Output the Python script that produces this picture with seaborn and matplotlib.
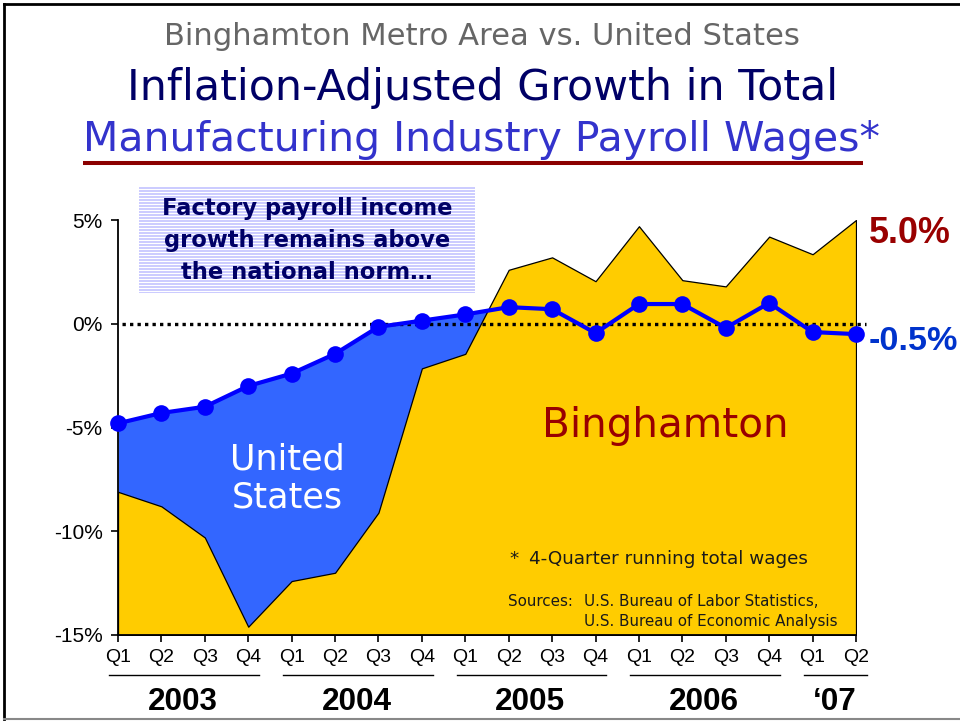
import matplotlib
matplotlib.use("Agg")
import matplotlib.pyplot as plt
import seaborn as sns
import numpy as np
import pandas as pd
from matplotlib.lines import Line2D
from matplotlib.patches import Rectangle
from matplotlib.transforms import blended_transform_factory

# ---------------- data ----------------
quarter_labels = ["Q1", "Q2", "Q3", "Q4", "Q1", "Q2", "Q3", "Q4",
                  "Q1", "Q2", "Q3", "Q4", "Q1", "Q2", "Q3", "Q4",
                  "Q1", "Q2"]
year_labels = ["2003", "2004", "2005", "2006", "\u201807"]
year_quarter_counts = [4, 4, 4, 4, 2]
us_growth = [-4.8, -4.3, -4.0, -3.0, -2.4, -1.45, -0.15, 0.15,
             0.45, 0.8, 0.7, -0.45, 0.95, 0.95, -0.2, 1.0, -0.4, -0.5]
binghamton_growth = [-8.1, -8.8, -10.3, -14.6, -12.4, -12.0, -9.1, -2.15,
                     -1.45, 2.6, 3.2, 2.05, 4.7, 2.1, 1.8, 4.2, 3.35, 5.0]
y_ticks = [-15, -10, -5, 0, 5]

# ---------------- figure ----------------
W, H = 960, 721
plt.rcParams["font.family"] = ["DejaVu Sans"]
fig = plt.figure(figsize=(W / 100, H / 100), dpi=100)
fig.patch.set_facecolor("white")

# striped call-out box (drawn first, behind everything)
bx0, by0, bx1, by1 = 139, 187, 475, 293
for py in range(by0, by1):
    if (py - by0) % 3 != 2:
        fig.add_artist(Rectangle((bx0 / W, 1 - (py + 1) / H),
                                 (bx1 - bx0) / W, 1 / H,
                                 facecolor="#CCCCFF", edgecolor="none",
                                 antialiased=False, zorder=0))

ax = fig.add_axes([118 / W, 86 / H, 738 / W, 415 / H])
ax.set_facecolor("none")

df = pd.DataFrame({"idx": np.arange(len(us_growth)),
                   "us": us_growth, "bing": binghamton_growth})
ymin, ymax = y_ticks[0], y_ticks[-1]

ax.fill_between(df["idx"], ymin, df["us"], color="#3366FF", lw=0, zorder=1)
ax.fill_between(df["idx"], ymin, df["bing"], facecolor="#FFCC00",
                edgecolor="black", lw=0.9, zorder=2)
ax.plot([0.1, 17.23], [0, 0], color="black", lw=2.4, ls=(0, (1, 1.25)),
        zorder=3, clip_on=False)
sns.lineplot(data=df, x="idx", y="us", ax=ax, color="#0000FF", lw=3,
             marker="o", markersize=12, markeredgewidth=0, zorder=5,
             clip_on=False)

ax.set_xlim(0, len(us_growth) - 1)
ax.set_ylim(ymin, ymax)
ax.set_xlabel("")
ax.set_ylabel("")
ax.set_xticks(df["idx"])
ax.set_xticklabels(quarter_labels)
ax.set_yticks(y_ticks)
ax.set_yticklabels([f"{v}%" for v in y_ticks])
for s in ["top", "right"]:
    ax.spines[s].set_visible(False)
for s in ["left", "bottom"]:
    ax.spines[s].set_color("black")
    ax.spines[s].set_linewidth(1.3)
ax.tick_params(axis="both", direction="out", length=5, width=1.2,
               color="black", left=True, bottom=True)
ax.tick_params(axis="y", labelsize=15, pad=6)
ax.tick_params(axis="x", labelsize=14, pad=5)
for lab in ax.get_xticklabels() + ax.get_yticklabels():
    lab.set_fontfamily("Liberation Sans")
    lab.set_color("black")


def ftext(px, py, s, **kw):
    return fig.text(px / W, 1 - py / H, s, **kw)


renderer = fig.canvas.get_renderer()


def fit(t, target):
    bb = t.get_window_extent(renderer=renderer)
    t.set_fontsize(t.get_fontsize() * target / bb.width)
    return t.get_fontsize()


# titles
t1 = ftext(482, 45, "Binghamton Metro Area vs. United States", ha="center",
           va="baseline", color="#666666", fontsize=20)
fit(t1, 635)
t2 = ftext(483, 100, "Inflation-Adjusted Growth in Total", ha="center",
           va="baseline", color="#000066", fontsize=28)
fit(t2, 710)
t3 = ftext(481.5, 151, "Manufacturing Industry Payroll Wages*", ha="center",
           va="baseline", color="#3333CC", fontsize=28)
fit(t3, 797)
fig.add_artist(Line2D([83 / W, 863 / W], [1 - 163 / H, 1 - 163 / H],
                      color="#8B0000", lw=2.9, solid_capstyle="butt"))

# call-out text
b1 = ftext(307, 215, "Factory payroll income", ha="center", va="baseline",
           color="#000066", fontweight="bold", fontsize=16)
bs = fit(b1, 291)
ftext(307, 247, "growth remains above", ha="center", va="baseline",
      color="#000066", fontweight="bold", fontsize=bs)
ftext(307, 279, "the national norm\u2026", ha="center", va="baseline",
      color="#000066", fontweight="bold", fontsize=bs)

# area labels
u1 = ftext(287, 470, "United", ha="center", va="baseline", color="white",
           fontsize=24)
us_fs = fit(u1, 115)
ftext(287, 508, "States", ha="center", va="baseline", color="white",
      fontsize=us_fs)
bl = ftext(665, 437, "Binghamton", ha="center", va="baseline",
           color="#990000", fontsize=28)
fit(bl, 246)

# end-value labels
e1 = ftext(869, 243, f"{binghamton_growth[-1]:.1f}%", ha="left",
           va="baseline", color="#990000", fontweight="bold",
           fontfamily="Liberation Sans", fontsize=26)
fit(e1, 82)
e2 = ftext(869, 350, f"{us_growth[-1]:.1f}%", ha="left", va="baseline",
           color="#0033CC", fontweight="bold", fontfamily="Liberation Sans",
           fontsize=25)
fit(e2, 89)

# footnotes
f1 = ftext(529, 564, "4-Quarter running total wages", ha="left",
           va="baseline", color="#1a1a1a", fontsize=12)
ffs = fit(f1, 278)
ftext(509, 564, "*", ha="left", va="baseline", color="#1a1a1a", fontsize=ffs)
s1 = ftext(584, 606, "U.S. Bureau of Labor Statistics,", ha="left",
           va="baseline", color="#1a1a1a", fontsize=10)
sfs = fit(s1, 235)
ftext(508, 606, "Sources:", ha="left", va="baseline", color="#1a1a1a",
      fontsize=sfs)
ftext(584, 626, "U.S. Bureau of Economic Analysis", ha="left",
      va="baseline", color="#1a1a1a", fontsize=sfs)

# year groups
trans = blended_transform_factory(ax.transData, fig.transFigure)
start = 0
yfs = None
for label, n in zip(year_labels, year_quarter_counts):
    end = start + n - 1
    ax.add_line(Line2D([start - 0.2, end + 0.25], [1 - 675 / H] * 2,
                       transform=trans, color="black", lw=1.0,
                       clip_on=False))
    t = ax.text((start + end) / 2, 1 - 710 / H, label, transform=trans,
                ha="center", va="baseline", fontweight="bold",
                fontfamily="Liberation Sans", fontsize=22, color="black",
                clip_on=False)
    if yfs is None:
        yfs = fit(t, 70)
    else:
        t.set_fontsize(yfs)
    start += n

# page frame
fig.add_artist(Line2D([4 / W, 1], [1 - 4 / H, 1 - 4 / H], color="black",
                      lw=2))
fig.add_artist(Line2D([4 / W, 4 / W], [1 - 4 / H, 1 - 719 / H],
                      color="black", lw=2))
fig.add_artist(Line2D([4 / W, 1], [1 - 719 / H, 1 - 719 / H],
                      color="#888888", lw=1.5))

fig.savefig("out.png", dpi=100)
